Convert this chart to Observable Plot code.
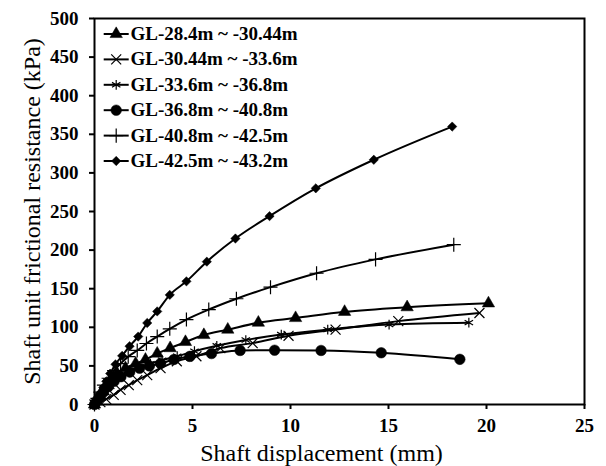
<!DOCTYPE html>
<html>
<head>
<meta charset="utf-8">
<script src="https://cdn.jsdelivr.net/npm/d3@7"></script>
<script src="https://cdn.jsdelivr.net/npm/@observablehq/plot@0.6"></script>
<style>
  html, body { margin: 0; padding: 0; background: #fff; }
  #chart { width: 606px; height: 466px; }
  #chart svg text { font-family: "Liberation Serif", "Times New Roman", serif; }
</style>
</head>
<body>
<div id="chart"></div>
<script>
// ---- data ----
const xTicks = [0, 5, 10, 15, 20, 25];
const yTicks = [0, 50, 100, 150, 200, 250, 300, 350, 400, 450, 500];
const seriesNames = [
  "GL-28.4m ~ -30.44m",
  "GL-30.44m ~ -33.6m",
  "GL-33.6m ~ -36.8m",
  "GL-36.8m ~ -40.8m",
  "GL-40.8m ~ -42.5m",
  "GL-42.5m ~ -43.2m"
];
const triX  = [0, 0.1, 0.25, 0.45, 0.7, 0.9, 1.16, 1.58, 2.1, 2.6, 3.2, 3.86, 4.64, 5.58, 6.8, 8.36, 10.26, 12.76, 15.95, 20.1];
const triY  = [0, 4, 10, 17, 25, 32, 40, 47, 53, 58, 66, 73, 81, 90, 97, 106, 112, 120, 126, 131];
const crossX = [0, 0.3, 0.6, 0.98, 1.33, 1.75, 2.18, 2.69, 3.37, 4.2, 5.2, 6.42, 8.07, 9.9, 12.3, 15.5, 19.64];
const crossY = [0, 3, 7, 12.5, 19, 25, 31.6, 38, 47, 56, 62.5, 73, 79.5, 89, 97, 108, 118.5];
const starX = [0, 0.1, 0.25, 0.45, 0.7, 1.0, 1.35, 1.8, 2.3, 2.85, 3.45, 4.22, 5.1, 6.24, 7.72, 9.53, 11.9, 15.03, 19.1];
const starY = [0, 5, 11, 18, 25, 32, 38, 44, 49, 53, 57.5, 62.6, 69, 76, 83.5, 90.6, 97, 103.5, 106];
const circX = [0, 0.1, 0.25, 0.45, 0.7, 1.0, 1.35, 1.8, 2.3, 2.8, 3.37, 4.05, 4.86, 5.97, 7.43, 9.19, 11.56, 14.63, 18.64];
const circY = [0, 4, 9, 16, 23, 30, 36, 42, 47, 50, 53.2, 58.3, 62.3, 66, 70, 70.3, 70, 67, 58.5];
const plusX = [0, 0.15, 0.3, 0.48, 0.72, 1.0, 1.33, 1.72, 2.18, 2.65, 3.2, 3.84, 4.69, 5.83, 7.24, 8.98, 11.33, 14.34, 18.33];
const plusY = [0, 8, 16, 25, 34, 44, 53, 62, 70, 79, 88, 98, 110, 123, 137, 152, 170, 188, 207];
const diaX  = [0, 0.1, 0.2, 0.3, 0.45, 0.6, 0.8, 1.07, 1.41, 1.79, 2.23, 2.69, 3.2, 3.84, 4.69, 5.73, 7.19, 8.93, 11.29, 14.25, 18.25];
const diaY  = [0, 5, 10, 15, 22, 30, 40, 52, 63, 75.5, 88, 105.6, 120.6, 142, 159.5, 185, 215, 244, 280, 317, 360];

const seriesX = [triX, crossX, starX, circX, plusX, diaX];
const seriesY = [triY, crossY, starY, circY, plusY, diaY];

// ---- styles ----
const symbols = ["triangle", "times", "asterisk", "circle", "plus", "diamond2"];
const filled  = [true, false, false, true, false, true];
const radii   = [4.6, 4.6, 4.6, 5.3, 4.6, 4.2];

const font = "'Liberation Serif', 'Times New Roman', serif";
const W = 606, H = 466;
const mL = 94, mR = 22, mT = 18, mB = 62;

const lineSymbol = {
  draw(ctx) { ctx.moveTo(-12.5, 0); ctx.lineTo(12.5, 0); }
};

const marks = [];
seriesNames.forEach((name, i) => {
  const data = seriesX[i].map((x, j) => ({x, y: seriesY[i][j]}));
  marks.push(Plot.line(data, {x: "x", y: "y", curve: "monotone-x", stroke: "black", strokeWidth: 2}));
  marks.push(Plot.dot(data, {
    x: "x", y: "y", symbol: () => symbols[i], r: radii[i],
    fill: filled[i] ? "black" : "none",
    stroke: "black", strokeWidth: filled[i] ? 0.5 : 1.2
  }));
  // legend entry
  const dy = 15.5 + i * 25.4;
  marks.push(Plot.dot([name], {frameAnchor: "top-left", dx: 21.7, dy, symbol: lineSymbol, r: 5, stroke: "black", strokeWidth: 2, fill: "none"}));
  marks.push(Plot.dot([name], {frameAnchor: "top-left", dx: 21.7, dy, symbol: symbols[i], r: radii[i],
    fill: filled[i] ? "black" : "none", stroke: "black", strokeWidth: filled[i] ? 0.5 : 1.2}));
  marks.push(Plot.text([name], {frameAnchor: "top-left", dx: 36, dy, text: d => d, textAnchor: "start", lineAnchor: "middle",
    fontSize: 19, fontWeight: "bold", fontFamily: font, fill: "black"}));
});

marks.push(Plot.frame({stroke: "black", strokeWidth: 2}));
marks.push(Plot.axisX({ticks: xTicks, tickSize: 5, tickPadding: 9, label: null,
  fontSize: 19, fontWeight: "bold", fontFamily: font, tickFormat: d => String(d), strokeWidth: 2}));
marks.push(Plot.axisY({ticks: yTicks, tickSize: 5, tickPadding: 11, label: null,
  fontSize: 19, fontWeight: "bold", fontFamily: font, tickFormat: d => String(d), strokeWidth: 2}));
marks.push(Plot.text(["Shaft displacement (mm)"], {frameAnchor: "bottom", dx: -18, dy: 49, text: d => d,
  textAnchor: "middle", lineAnchor: "middle", fontSize: 24, fontFamily: font, fill: "black"}));
marks.push(Plot.text(["Shaft unit frictional resistance (kPa)"], {frameAnchor: "left", dx: -62, rotate: -90, text: d => d,
  textAnchor: "middle", lineAnchor: "middle", fontSize: 24, fontFamily: font, fill: "black"}));

const chart = Plot.plot({
  width: W, height: H,
  marginLeft: mL, marginRight: mR, marginTop: mT, marginBottom: mB,
  style: {fontFamily: font, color: "black", background: "white", overflow: "visible"},
  x: {domain: [0, 25]},
  y: {domain: [0, 500]},
  marks
});
document.getElementById("chart").appendChild(chart);
</script>
</body>
</html>
